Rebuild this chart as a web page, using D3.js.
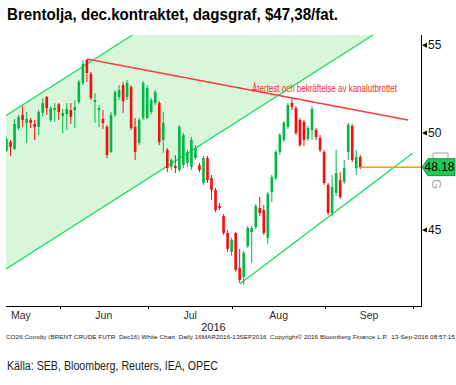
<!DOCTYPE html>
<html><head><meta charset="utf-8">
<script src="https://cdn.jsdelivr.net/npm/d3@7"></script>
<style>body{margin:0;background:#fff}svg{display:block}</style>
</head><body>
<script>
// trading days (2016)
const dates = ["05-12","05-13","05-16","05-17","05-18","05-19","05-20","05-23","05-24","05-25","05-26","05-27","05-30","05-31",
"06-01","06-02","06-03","06-06","06-07","06-08","06-09","06-10","06-13","06-14","06-15","06-16","06-17","06-20","06-21","06-22","06-23","06-24","06-27","06-28","06-29","06-30",
"07-01","07-04","07-05","07-06","07-07","07-08","07-11","07-12","07-13","07-14","07-15","07-18","07-19","07-20","07-21","07-22","07-25","07-26","07-27","07-28","07-29",
"08-01","08-02","08-03","08-04","08-05","08-08","08-09","08-10","08-11","08-12","08-15","08-16","08-17","08-18","08-19","08-22","08-23","08-24","08-25","08-26","08-29","08-30","08-31",
"09-01","09-02","09-05","09-06","09-07","09-08","09-09","09-12","09-13"];
const open  = [49.04,49.51,49.14,50.27,50.99,50.55,50.71,50.49,50.33,51.10,51.99,50.71,51.26,51.59,50.93,51.04,51.26,51.26,51.71,52.79,54.12,53.31,51.71,51.26,50.77,50.33,48.98,50.99,51.99,52.67,51.99,52.56,50.33,49.46,50.82,50.82,51.15,51.65,51.65,49.62,49.09,48.19,48.24,48.03,48.29,48.40,48.19,48.66,48.29,47.36,48.66,47.61,47.00,46.19,45.69,44.86,43.95,44.86,43.19,42.77,44.23,44.90,45.15,46.09,45.99,44.62,46.90,47.61,48.98,49.62,50.33,51.65,51.37,50.71,50.60,49.67,50.16,50.16,49.73,48.98,47.26,45.84,46.85,47.51,47.41,48.98,50.38,48.13,48.71];
const high  = [49.73,49.62,50.77,50.99,51.48,51.15,50.82,50.71,51.26,51.93,52.04,51.48,51.65,51.65,51.32,51.65,51.65,51.82,52.96,54.12,54.18,53.43,52.22,51.54,51.26,50.44,51.15,52.39,52.67,52.85,52.96,52.67,50.82,50.82,52.90,52.67,51.93,52.39,51.76,51.15,49.19,48.66,48.82,50.44,50.00,49.09,49.78,49.35,48.40,48.77,48.77,47.77,47.10,46.34,45.79,45.00,44.62,44.90,44.09,43.99,45.20,45.20,46.29,46.65,46.24,46.90,47.77,49.09,50.00,50.66,51.65,51.99,51.48,50.82,50.71,50.38,51.48,50.27,49.89,49.09,47.36,47.77,49.09,47.92,48.56,50.55,50.49,49.09,48.82];
const low   = [48.98,48.77,49.09,50.16,50.33,49.46,50.27,49.62,49.89,50.93,50.99,50.60,50.60,50.71,50.00,50.16,50.49,50.27,51.59,52.67,52.85,51.82,50.55,50.33,50.22,48.66,48.93,50.88,51.82,51.10,51.82,50.16,48.56,49.35,50.71,50.77,51.04,51.54,49.35,48.93,47.92,48.03,47.87,47.92,48.13,48.19,48.03,48.56,47.92,47.26,47.36,46.50,45.89,45.99,44.76,43.95,43.76,43.01,42.49,42.40,44.14,43.43,45.05,45.69,44.76,44.33,46.40,47.51,48.82,49.51,50.22,51.26,49.89,49.25,49.30,49.57,49.62,49.62,48.98,47.26,45.74,45.69,46.70,46.55,47.31,48.56,48.45,47.77,48.08];
const close = [49.67,49.25,50.49,50.88,50.71,50.77,50.55,50.33,51.15,51.65,51.37,51.37,51.37,51.15,51.10,51.32,50.88,51.43,52.85,53.89,53.37,51.93,51.82,51.37,50.55,48.82,50.99,52.27,52.39,51.76,52.79,50.27,48.98,50.71,52.79,52.50,51.82,52.27,49.51,50.55,48.13,48.56,48.13,50.33,49.89,48.98,49.62,49.19,48.03,48.66,47.51,47.00,45.99,46.09,44.86,44.09,44.52,43.10,42.63,43.90,45.10,45.10,46.19,45.84,44.86,46.80,47.67,48.98,49.89,50.55,51.54,51.43,50.00,49.35,49.62,50.27,51.32,49.78,49.09,47.36,45.84,47.15,47.87,46.65,48.13,50.44,48.56,48.71,48.18];

const yTicks = [45, 50, 55];
const monthLabels = ["May","Jun","Jul","Aug","Sep"];
const monthTicks = [13.2, 35.2, 56.2, 79.2, 101.2];   // trading-day index of month boundaries (Jun..Oct)
const yearLabel = "2016";

// trend lines: [trading-day index, price]
const channelUpper = [[-0.124, 50.96], [31.32, 55.61]];
const channelLower = [[-0.124, 43.14], [91.17, 55.61]];
const resistance   = [[20, 54.18], [99.9, 50.71]];
const support      = [[58.1, 42.45], [101.0, 48.91]];

const title = "Brentolja, dec.kontraktet, dagsgraf, $47,38/fat.";
const note = "Återtest och bekräftelse av kanalutbrottet";
const footer = "CO26 Comdty (BRENT CRUDE FUTR  Dec16) White Chart  Daily 16MAR2016-13SEP2016  Copyright\u00a9 2016 Bloomberg Finance L.P.  13-Sep-2016 08:57:15";
const source = "Källa: SEB, Bloomberg, Reuters, IEA, OPEC";

const W = 456, H = 385;
const L = 6, R = 421, T = 35, B = 306;
const svg = d3.select("body").append("svg").attr("width", W).attr("height", H);

const x = d3.scaleLinear().domain([-0.124, 103.11]).range([L, R]);
const y = d3.scaleLog().domain([41.44, 55.61]).range([B, T]);

svg.append("defs").append("clipPath").attr("id","clip")
  .append("rect").attr("x", L).attr("y", T - 1).attr("width", R - L).attr("height", B - T + 1);

const plot = svg.append("g").attr("clip-path", "url(#clip)");
const pt = d => [x(d[0]), y(d[1])];

// shaded old channel
plot.append("path")
  .attr("d", d3.line()([pt(channelUpper[0]), pt(channelUpper[1]), pt(channelLower[1]), pt(channelLower[0])]) + "Z")
  .attr("fill", "#d8f6da");

const greenLine = "#12dc55";
[channelUpper, channelLower, support].forEach(seg => {
  plot.append("path").attr("d", d3.line()(seg.map(pt)))
    .attr("fill","none").attr("stroke", greenLine).attr("stroke-width", 1.2);
});

// candles
const cg = plot.append("g");
dates.forEach((d, i) => {
  const o = open[i], c = close[i], h = high[i], l = low[i];
  const col = c >= o ? "#00b845" : "#ff0a0a";
  const cx = x(i);
  cg.append("line").attr("x1", cx).attr("x2", cx).attr("y1", y(h)).attr("y2", y(l))
    .attr("stroke", col).attr("stroke-width", 1);
  const top = y(Math.max(o, c)), bot = y(Math.min(o, c));
  cg.append("rect").attr("x", cx - 1.3).attr("width", 2.6).attr("y", top)
    .attr("height", Math.max(1, bot - top)).attr("fill", col);
});

// resistance line
plot.append("path").attr("d", d3.line()(resistance.map(pt)))
  .attr("fill","none").attr("stroke", "#ff3b3b").attr("stroke-width", 1.4);

// last price line
const last = close[close.length - 1];
svg.append("line").attr("x1", x(dates.length - 1)).attr("x2", R).attr("y1", y(last)).attr("y2", y(last))
  .attr("stroke", "#ff9a00").attr("stroke-width", 1.5);

// annotation
svg.append("text").attr("x", 252).attr("y", 91.5).text(note)
  .attr("font-family", "'Liberation Sans Narrow','Arial Narrow','Liberation Sans',sans-serif")
  .attr("font-size", 10).attr("fill", "#ff2a2a")
  .attr("textLength", 145).attr("lengthAdjust", "spacingAndGlyphs");

// axes
svg.append("line").attr("x1", L).attr("x2", R + 0.5).attr("y1", B + 0.5).attr("y2", B + 0.5).attr("stroke", "#000");
svg.append("line").attr("x1", R + 0.5).attr("x2", R + 0.5).attr("y1", T).attr("y2", B + 1).attr("stroke", "#000");

const tickFont = "'Liberation Sans Narrow','Arial Narrow','Liberation Sans',sans-serif";
yTicks.forEach(v => {
  const yy = y(v);
  svg.append("path").attr("d", `M${R+1},${yy} L${R+6},${yy-2.5} L${R+6},${yy+2.5} Z`).attr("fill", "#000");
  svg.append("text").attr("x", R + 7).attr("y", yy).attr("dy", "0.36em").text(v)
    .attr("font-family", tickFont).attr("font-size", 12).attr("fill", "#111");
});

monthTicks.forEach(t => {
  svg.append("line").attr("x1", Math.round(x(t)) + 0.5).attr("x2", Math.round(x(t)) + 0.5)
    .attr("y1", B).attr("y2", B + 3).attr("stroke", "#000");
});
monthLabels.forEach((m, k) => {
  let xx, anchor = "middle";
  if (k === 0) { xx = L + 5; anchor = "start"; }
  else xx = (x(monthTicks[k - 1]) + x(monthTicks[k])) / 2;
  svg.append("text").attr("x", xx).attr("y", 319).attr("text-anchor", anchor).text(m)
    .attr("font-family", tickFont).attr("font-size", 10.5).attr("fill", "#3a2a22");
});
svg.append("text").attr("x", 213.5).attr("y", 331).attr("text-anchor", "middle").text(yearLabel)
  .attr("font-family", tickFont).attr("font-size", 11).attr("fill", "#222");

// last-price tag
const ly = y(last);
svg.append("path").attr("d", "M433,158.5 V153 H448 V158.5").attr("fill", "none").attr("stroke", "#a0a0a0");
svg.append("path")
  .attr("d", `M${R+1},${ly} L${R+7},${ly-8.5} H455 V${ly+8.5} H${R+7} Z`)
  .attr("fill", "#1fc955").attr("stroke", "#0a7a30").attr("stroke-width", 0.8);
svg.append("text").attr("x", 439.5).attr("y", ly).attr("dy", "0.36em").attr("text-anchor", "middle")
  .text(last.toFixed(2)).attr("font-family", tickFont).attr("font-size", 12).attr("fill", "#000");
svg.append("text").attr("transform", `translate(437,184) rotate(90)`).attr("text-anchor", "middle")
  .attr("dy", "0.35em").text("G").attr("font-family", tickFont).attr("font-size", 13).attr("fill", "#a8a8a8");

// title, footer, source
svg.append("text").attr("x", 7).attr("y", 20).text(title)
  .attr("font-family", "'Liberation Sans Narrow','Arial Narrow','Liberation Sans',sans-serif")
  .attr("font-weight", "bold").attr("font-size", 16.5).attr("fill", "#000")
  .attr("textLength", 331).attr("lengthAdjust", "spacingAndGlyphs");
svg.append("text").attr("x", 6).attr("y", 338.5).text(footer).style("white-space", "pre")
  .attr("font-family", tickFont).attr("font-size", 6).attr("fill", "#222")
  .attr("textLength", 449).attr("lengthAdjust", "spacingAndGlyphs");
svg.append("text").attr("x", 7).attr("y", 370).text(source)
  .attr("font-family", "'Liberation Sans Narrow','Arial Narrow','Liberation Sans',sans-serif")
  .attr("font-size", 12.5).attr("fill", "#222")
  .attr("textLength", 211).attr("lengthAdjust", "spacingAndGlyphs");
</script>
</body></html>
